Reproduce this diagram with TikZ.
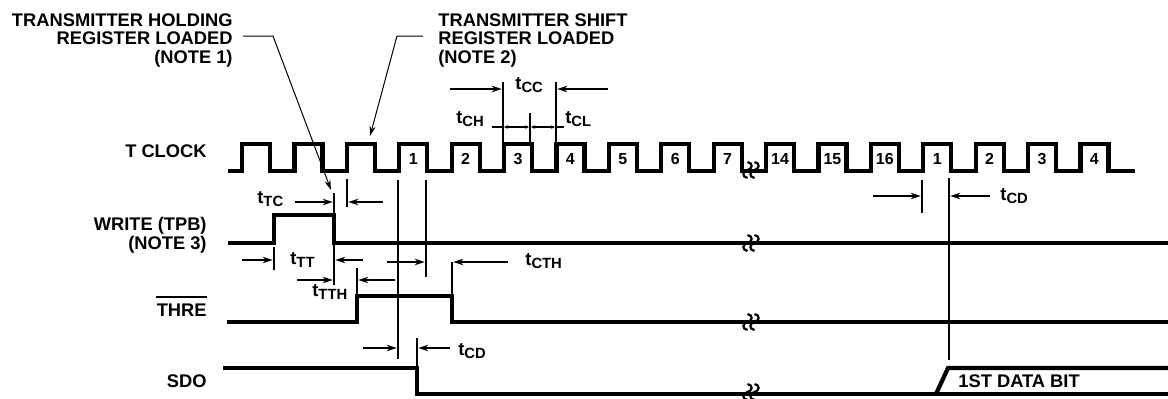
\documentclass[tikz,border=0pt]{standalone}
\usepackage{fontspec}
\setmainfont{Liberation Sans}
\usetikzlibrary{positioning, arrows.meta, calc}

% t with a subscript, as in the timing labels
\newcommand{\tsub}[1]{t\raisebox{-1.7pt}{\fontsize{7.4}{7.4}\selectfont #1}}

\begin{document}
\begin{tikzpicture}[x=0.5pt, y=-0.5pt,
    wave/.style={line width=2.1pt},
    refline/.style={line width=0.85pt},
    lead/.style={line width=0.5pt, -{Stealth[length=5pt, width=3pt]}},
    dimarrow/.style={line width=0.85pt, -{Stealth[length=5pt, width=3.2pt]}, shorten >=0.6pt},
    tinyarrow/.style={line width=0.6pt, {Stealth[length=2pt, width=1.8pt]}-{Stealth[length=2pt, width=1.8pt]}, shorten >=0.5pt, shorten <=0.5pt},
    sig/.style={font=\fontsize{9.15}{9.4}\selectfont\bfseries, inner sep=0pt},
    note/.style={font=\fontsize{9.15}{9.4}\selectfont\bfseries, inner sep=0pt},
    tlabel/.style={font=\fontsize{9.15}{9.4}\selectfont\bfseries, inner sep=0pt, anchor=base west},
    num/.style={font=\fontsize{8}{8}\selectfont\bfseries, inner sep=0pt},
    brk/.pic={
        \foreach \dx in {-3.5,3.5}{
            \draw[line width=1.1pt] (\dx,-8) .. controls ({\dx+6},-7) and ({\dx+5},-1) .. (\dx,0)
                .. controls ({\dx-5},1) and ({\dx-6},7) .. (\dx,8);
        }
    }]

    \useasboundingbox (0,0) rectangle (1168,398);

    % Signal names
    \node[sig, anchor=base east] (clk) at (207,157) {T CLOCK};
    \node[sig, anchor=north east, align=right] (wr) at (207,217) {WRITE (TPB)\\(NOTE 3)};
    \node[sig, anchor=base east] (thre) at (207,316) {THRE};
    \draw[line width=0.75pt] ($(thre.north west)+(0,-6)$) -- ($(thre.north east)+(0,-6)$);
    \node[sig, anchor=base east] (sdo) at (207,387) {SDO};

    % Notes at the top
    \node[note, anchor=north east, align=right] (note1) at (233,13) {TRANSMITTER HOLDING\\REGISTER LOADED\\(NOTE 1)};
    \node[note, anchor=north west, align=left] (note2) at (438,13) {TRANSMITTER SHIFT\\REGISTER LOADED\\(NOTE 2)};
    \coordinate (n1a) at (243,36);
    \coordinate (n1b) at (273,36);
    \coordinate (n1tip) at (331,190);
    \coordinate (n2a) at (423,36);
    \coordinate (n2b) at (397,36);
    \coordinate (n2tip) at (370,136);
    \draw[lead] (n1a) -- (n1b) -- (n1tip);
    \draw[lead] (n2a) -- (n2b) -- (n2tip);

    % Clock
    \draw[wave] (228,171)
        \foreach \k in {0,...,16}{ -- ({242+52.4*\k},171) -- ++(0,-27) -- ++(28,0) -- ++(0,27) }
        -- (1135,171);
    \foreach \k/\n in {3/1, 4/2, 5/3, 6/4, 7/5, 8/6, 9/7, 10/14, 11/15, 12/16, 13/1, 14/2, 15/3, 16/4}
        \node[num] (p\k) at ({256+52.4*\k},159) {\n};

    % WRITE, THRE and SDO
    \draw[wave] (228,243) -- (274,243) -- (274,215) -- (334,215) -- (334,243) -- (1168,243);
    \draw[wave] (227,322) -- (357,322) -- (357,296) -- (452,296) -- (452,322) -- (1168,322);
    \draw[wave] (223,368) -- (417,368) -- (417,394) -- (1168,394);
    \draw[wave] (936,394) -- (948,368) -- (1168,368);
    \node[tlabel] (bit) at (958,387) {1ST DATA BIT};

    % Breaks
    \foreach \y/\s in {170/clk, 243/wr, 322/thre, 392/sdo}
        \pic (brk\s) at (751,\y) {brk};

    % Reference lines
    \draw[refline] (334,193) -- (334,215);
    \draw[refline] (347,179) -- (347,207);
    \draw[refline] (398,180) -- (398,359);
    \draw[refline] (426,180) -- (426,277);
    \draw[refline] (274,247) -- (274,270);
    \draw[refline] (334,243) -- (334,285);
    \draw[refline] (357,268) -- (357,296);
    \draw[refline] (452,262) -- (452,296);
    \draw[refline] (417,338) -- (417,368);
    \draw[refline] (503,82) -- (503,144);
    \draw[refline] (530,113) -- (530,144);
    \draw[refline] (556,82) -- (556,144);
    \draw[refline] (922,180) -- (922,213);
    \draw[refline] (949,178) -- (949,360);

    % Arrow targets
    \coordinate (tc1) at (334,202);  \coordinate (tc2) at (347,202);
    \coordinate (tt1) at (274,260);  \coordinate (tt2) at (334,260);
    \coordinate (th1) at (334,280);  \coordinate (th2) at (357,280);
    \coordinate (ch1) at (426,262);  \coordinate (ch2) at (452,262);
    \coordinate (cd1) at (398,348);  \coordinate (cd2) at (417,348);
    \coordinate (cd3) at (922,196);  \coordinate (cd4) at (949,196);
    \coordinate (cc1) at (503,89);   \coordinate (cc2) at (556,89);
    \coordinate (cc3) at (503,127);  \coordinate (cc4) at (530,127);  \coordinate (cc5) at (556,127);

    % Timing arrows
    \draw[dimarrow] ($(tc1)+(-39,0)$) -- (tc1);
    \draw[dimarrow] ($(tc2)+(36,0)$) -- (tc2);
    \draw[dimarrow] ($(tt1)+(-32,0)$) -- (tt1);
    \draw[dimarrow] ($(tt2)+(29,0)$) -- (tt2);
    \draw[dimarrow] ($(th1)+(-37,0)$) -- (th1);
    \draw[dimarrow] ($(th2)+(38,0)$) -- (th2);
    \draw[dimarrow] ($(ch1)+(-39,0)$) -- (ch1);
    \draw[dimarrow] ($(ch2)+(56,0)$) -- (ch2);
    \draw[dimarrow] ($(cd1)+(-35,0)$) -- (cd1);
    \draw[dimarrow] ($(cd2)+(33,0)$) -- (cd2);
    \draw[dimarrow] ($(cd3)+(-49,0)$) -- (cd3);
    \draw[dimarrow] ($(cd4)+(41,0)$) -- (cd4);
    \draw[dimarrow] ($(cc1)+(-53,0)$) -- (cc1);
    \draw[dimarrow] ($(cc2)+(52,0)$) -- (cc2);
    \draw[refline] ($(cc3)+(-11,0)$) -- (cc3);
    \draw[tinyarrow] (cc3) -- (cc4);
    \draw[tinyarrow] (cc4) -- (cc5);
    \draw[refline] (cc5) -- ($(cc5)+(8,0)$);

    % Timing labels
    \node[tlabel] (ltc) at (257,203) {\tsub{TC}};
    \node[tlabel] (ltt) at (290,264) {\tsub{TT}};
    \node[tlabel] (ltth) at (312,296) {\tsub{TTH}};
    \node[tlabel] (lcth) at (525,265) {\tsub{CTH}};
    \node[tlabel] (lcd) at (458,355) {\tsub{CD}};
    \node[tlabel] (lcd2) at (1000,200) {\tsub{CD}};
    \node[tlabel] (lcc) at (515,89) {\tsub{CC}};
    \node[tlabel] (lch) at (456,123) {\tsub{CH}};
    \node[tlabel] (lcl) at (565,123) {\tsub{CL}};

\end{tikzpicture}
\end{document}
